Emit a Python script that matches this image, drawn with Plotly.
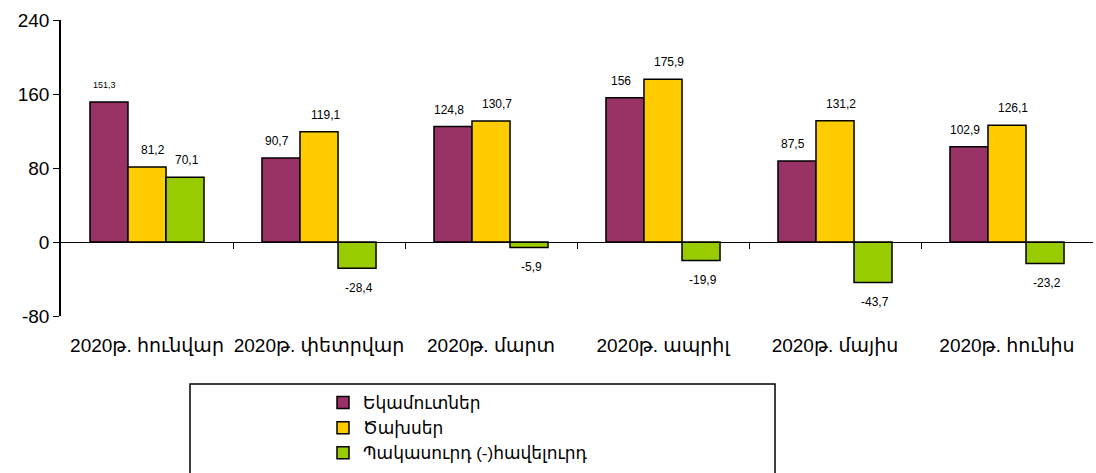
import plotly.graph_objects as go

categories = ["2020թ. հունվար", "2020թ. փետրվար", "2020թ. մարտ",
              "2020թ. ապրիլ", "2020թ. մայիս", "2020թ. հունիս"]
exports = [151.3, 90.7, 124.8, 156, 87.5, 102.9]
expenses = [81.2, 119.1, 130.7, 175.9, 131.2, 126.1]
deficit = [70.1, -28.4, -5.9, -19.9, -43.7, -23.2]
series_names = ["Եկամուտներ", "Ծախսեր", "Պակասուրդ (-)հավելուրդ"]
y_ticks = [-80, 0, 80, 160, 240]
y_tick_text = ["-80", "0", "80", "160", "240"]

colors = ["#993366", "#FFCC00", "#99CC00"]
FONT = "Liberation Sans, Arial, DejaVu Sans, sans-serif"

fig = go.Figure()
all_series = [exports, expenses, deficit]
for name, vals, col in zip(series_names, all_series, colors):
    fig.add_trace(go.Bar(
        x=categories, y=vals, name=name,
        marker=dict(color=col, line=dict(color="black", width=1.5)),
    ))

def fmt(v):
    s = ("%.1f" % v).replace(".", ",")
    if s.endswith(",0"):
        s = s[:-2]
    return s

offsets = [-1, 0, 1]
xshifts = [-4, 6, 2]
bar_w = 0.663 / 3
annotations = []
for si, vals in enumerate(all_series):
    for ci, v in enumerate(vals):
        size = 9 if (si == 0 and ci == 0) else 12
        annotations.append(dict(
            x=ci + offsets[si] * bar_w, y=v, xref="x2", yref="y",
            text=fmt(v), showarrow=False,
            yshift=17 if v >= 0 else -20, xshift=xshifts[si],
            font=dict(family=FONT, size=size, color="black"),
        ))

W, H = 1096, 473
L, R, T, B = 61, 3, 20, 157
pw = W - L - R
ph = H - T - B

fig.update_layout(
    width=W, height=H,
    margin=dict(l=L, r=R, t=T, b=B, autoexpand=False),
    paper_bgcolor="white", plot_bgcolor="white",
    barmode="group", bargap=0.337, bargroupgap=0,
    font=dict(family=FONT, color="black"),
    xaxis=dict(type="category", showline=False, ticks="", showgrid=False,
               zeroline=False, tickfont=dict(size=19, family=FONT),
               ticklabelstandoff=16, range=[-0.5, 5.5]),
    xaxis2=dict(overlaying="x", anchor="free", position=0.25,
                range=[-0.5, 5.5], showline=True, linecolor="black",
                linewidth=1, ticks="outside", ticklen=6, tickcolor="black",
                tickvals=[0.5, 1.5, 2.5, 3.5, 4.5], showticklabels=False,
                showgrid=False, zeroline=False),
    yaxis=dict(range=[-80, 240], tickvals=y_ticks, ticktext=y_tick_text,
               showline=True,
               linecolor="black", linewidth=1.5, ticks="outside", ticklen=6,
               tickcolor="black", showgrid=False, zeroline=False,
               tickfont=dict(size=19, family=FONT)),
    legend=dict(x=(323 - L) / pw, y=(316 - 385) / ph, xanchor="left",
                yanchor="top",
                bgcolor="rgba(0,0,0,0)", borderwidth=0,
                font=dict(size=17, family=FONT), tracegroupgap=0,
                itemwidth=30),
    showlegend=True,
    annotations=annotations,
    shapes=[dict(type="rect", xref="paper", yref="paper",
                 x0=(190 - L) / pw, x1=(775 - L) / pw,
                 y0=-0.6, y1=(316 - 384) / ph,
                 line=dict(color="black", width=1.5),
                 fillcolor="rgba(0,0,0,0)", layer="below")],
)
# invisible trace to activate xaxis2 (zero line with boundary ticks)
fig.add_trace(go.Scatter(x=[0], y=[0], xaxis="x2", yaxis="y", mode="markers",
                         marker=dict(opacity=0), showlegend=False,
                         hoverinfo="skip"))

fig.write_html("out.html", config={"displayModeBar": False},
               post_script="document.body.style.margin='0px';"
                           "document.body.style.overflow='hidden';")
